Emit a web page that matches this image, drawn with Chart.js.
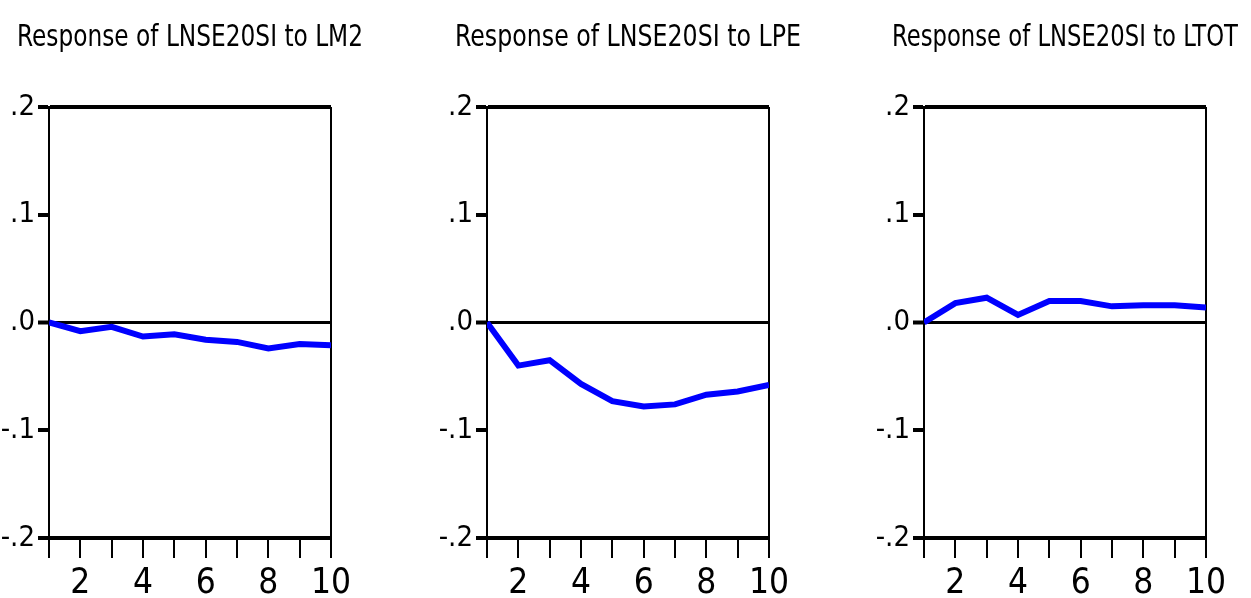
<!DOCTYPE html>
<html>
<head>
<meta charset="utf-8">
<script src="https://cdn.jsdelivr.net/npm/chart.js@4/dist/chart.umd.min.js"></script>
<style>
  html, body { margin:0; padding:0; background:#fff; width:1251px; height:598px; overflow:hidden; }
  .panel { position:absolute; top:0; width:402px; height:598px; }
</style>
</head>
<body>
<div class="panel" style="left:-11px"><canvas id="c1" width="402" height="598"></canvas></div>
<div class="panel" style="left:427px"><canvas id="c2" width="402" height="598"></canvas></div>
<div class="panel" style="left:864px"><canvas id="c3" width="402" height="598"></canvas></div>
<script>
const periods = [1, 2, 3, 4, 5, 6, 7, 8, 9, 10];
const respLM2  = [0, -0.008, -0.004, -0.013, -0.011, -0.016, -0.018, -0.024, -0.020, -0.021];
const respLPE  = [0, -0.040, -0.035, -0.057, -0.073, -0.078, -0.076, -0.067, -0.064, -0.058];
const respLTOT = [0, 0.018, 0.023, 0.007, 0.020, 0.020, 0.015, 0.016, 0.016, 0.014];
const titles = ['Response of LNSE20SI to LM2', 'Response of LNSE20SI to LPE', 'Response of LNSE20SI to LTOT'];
const yTickValues = [0.2, 0.1, 0, -0.1, -0.2];
const yTickLabels = ['.2', '.1', '.0', '-.1', '-.2'];
const xTickLabels = ['', '2', '', '4', '', '6', '', '8', '', '10'];

const FONT = "'Liberation Sans Narrow', 'Arial Narrow', 'DejaVu Sans Condensed', sans-serif";

function isVal(c, v) { return c.tick && Math.abs(c.tick.value - v) < 1e-9; }

// let the y tick labels extend left of the (narrow) y-axis box without being clipped
const unclipPlugin = {
  id: 'unclipY',
  afterLayout(chart) { if (chart.scales.y) chart.scales.y.left = 0; }
};

function makeChart(id, title, values) {
  const pts = periods.map((p, i) => ({ x: p, y: values[i] }));
  return new Chart(document.getElementById(id), {
    type: 'line',
    plugins: [unclipPlugin],
    data: { datasets: [{ data: pts, yAxisID: 'y', borderColor: '#0000ff', borderWidth: 6, pointRadius: 0, tension: 0, fill: false, borderJoinStyle: 'miter' }] },
    options: {
      responsive: false,
      animation: false,
      layout: { padding: { left: 28, right: 28, top: 0, bottom: 0 } },
      plugins: {
        legend: { display: false },
        tooltip: { enabled: false },
        title: { display: true, text: title, color: '#000', font: { family: FONT, size: 30, weight: 'normal' }, padding: { top: 20, bottom: 51 } }
      },
      scales: {
        x: {
          type: 'linear', min: 1, max: 10,
          afterFit: (s) => { s.height = 60; },
          border: { display: false },
          grid: {
            drawOnChartArea: true,
            color: (c) => (isVal(c, 1) || isVal(c, 10)) ? '#000' : 'rgba(0,0,0,0)',
            lineWidth: 2,
            tickColor: '#000', tickWidth: 2, tickLength: 20
          },
          ticks: {
            stepSize: 1, autoSkip: false, maxRotation: 0, padding: 5,
            color: '#000', font: { family: FONT, size: 35 },
            callback: (v) => { const i = periods.indexOf(v); return i >= 0 ? xTickLabels[i] : ''; }
          }
        },
        y: {
          position: 'left', min: -0.2, max: 0.2,
          afterFit: (s) => { s.width = 32; },
          afterBuildTicks: (s) => { s.ticks = yTickValues.map(v => ({ value: v })); },
          border: { display: true, color: '#000', width: 2 },
          grid: {
            drawOnChartArea: true,
            color: (c) => (isVal(c, 0) || isVal(c, 0.2) || isVal(c, -0.2)) ? '#000' : 'rgba(0,0,0,0)',
            lineWidth: (c) => isVal(c, 0) ? 3 : 4,
            tickColor: '#000', tickWidth: 4, tickLength: 11
          },
          ticks: {
            padding: 3, color: '#000', font: { family: FONT, size: 29 },
            callback: (v) => { const i = yTickValues.findIndex(t => Math.abs(t - v) < 1e-9); return i >= 0 ? yTickLabels[i] : ''; }
          }
        },
        yRight: {
          position: 'right', min: -0.2, max: 0.2, display: true,
          afterFit: (s) => { s.width = 32; },
          border: { display: false },
          grid: { display: false },
          ticks: { display: false }
        }
      }
    }
  });
}
makeChart('c1', titles[0], respLM2);
makeChart('c2', titles[1], respLPE);
makeChart('c3', titles[2], respLTOT);
</script>
</body>
</html>
